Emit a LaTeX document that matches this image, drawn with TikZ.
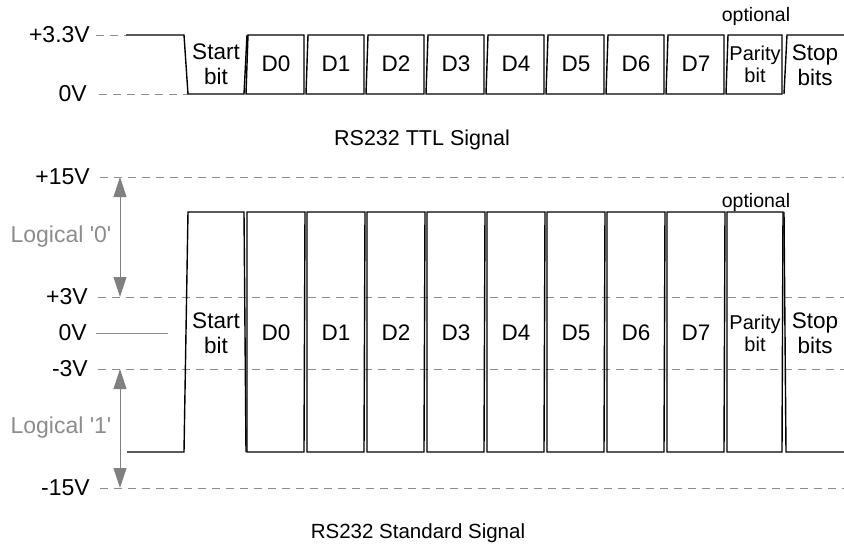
\documentclass[tikz,border=0pt]{standalone}
\usepackage{fontspec}
\setmainfont{Liberation Sans}
\usetikzlibrary{arrows.meta,positioning}

\tikzset{
  wave/.style={line width=1.4pt, line join=miter},
  level/.style={gray!90, dash pattern=on 8pt off 6pt, line width=0.9pt},
  lbl/.style={font=\fontsize{22.5}{25}\selectfont, inner sep=0pt},
  partlbl/.style={lbl, align=center, font=\fontsize{20}{22}\selectfont},
  smalllbl/.style={lbl, font=\fontsize{19.5}{22}\selectfont},
  titlelbl/.style={lbl, font=\fontsize{21.5}{24}\selectfont},
  vlbl/.style={lbl, anchor=east, font=\fontsize{23}{25}\selectfont},
  logic/.style={lbl, text=gray!90, font=\fontsize{23}{25}\selectfont},
  levelarrow/.style={gray, line width=1pt, {Triangle[length=20pt,width=13pt]}-{Triangle[length=20pt,width=13pt]}},
}

\begin{document}
\begin{tikzpicture}[x=1pt, y=-1pt]
  \useasboundingbox (0,0) rectangle (844,544);

  % TTL signal
  \node[vlbl] (ttlhi) at (90,35) {+3.3V};
  \node[vlbl] (ttllo) at (87,94) {0V};
  \coordinate (ttlidle) at (126,35);
  \coordinate (ttlstart) at (188,94);
  \draw[level] ([xshift=6pt]ttlhi.east) -- (ttlidle);
  \draw[level] ([xshift=12pt]ttllo.east) -- (ttlstart);
  \draw[wave] (ttlidle) -- (184,35) -- (ttlstart) -- (244,94) -- (247,35);
  \node[lbl, align=center] (ttlsb) at (216,64) {Start\\bit};
  \foreach \n in {0,...,7} {
    \pgfmathsetmacro{\b}{246+60*\n}
    \draw[wave] (\b,94) -- (\b+2,35) -- (\b+58,35) -- (\b+58,94) -- cycle;
    \node[lbl] (ttl\n) at (\b+30,64) {D\n};
  }
  \draw[wave] (726,94) -- (728,35) -- (782,35) -- (782,94) -- cycle;
  \node[partlbl] (ttlpar) at (755,64) {Parity\\bit};
  \node[smalllbl] (ttlopt) at (756,16) {optional};
  \draw[wave] (784,94) -- (787,35) -- (844,35);
  \node[lbl, align=center] (ttlstop) at (815,65) {Stop\\bits};
  \node[titlelbl] (ttltitle) at (422,140) {RS232 TTL Signal};

  % RS232 standard signal
  \node[vlbl] (p15) at (90,177) {+15V};
  \node[vlbl] (p3) at (88,297) {+3V};
  \node[vlbl] (z) at (87,333) {0V};
  \node[vlbl] (m3) at (88,369) {-3V};
  \node[vlbl] (m15) at (90,488) {-15V};
  \foreach \l/\y in {p15/177, p3/297, m3/369, m15/488}
    \draw[level] ([xshift=10pt]\l.east) -- (844,\y);
  \coordinate (zend) at (168,333);
  \draw[gray!90, line width=0.9pt] ([xshift=9pt]z.east) -- (zend);

  \coordinate (a15) at (120,177);
  \coordinate (a3) at (120,297);
  \coordinate (am3) at (120,369);
  \coordinate (am15) at (120,488);
  \draw[levelarrow] (a15) -- (a3);
  \draw[levelarrow] (am3) -- (am15);
  \node[logic] (log0) at (61,237) {Logical \textquotesingle0\textquotesingle};
  \node[logic] (log1) at (61,428) {Logical \textquotesingle1\textquotesingle};

  \coordinate (stdidle) at (127,452);
  \draw[wave] (stdidle) -- (184,452) -- (188,212) -- (244,212) -- (246,452);
  \node[lbl, align=center] (stdsb) at (216,333) {Start\\bit};
  \foreach \n in {0,...,7} {
    \pgfmathsetmacro{\b}{246+60*\n}
    \draw[wave] (\b+1,212) -- (\b+59,212) -- (\b+58,452) -- (\b+1,452) -- cycle;
    \node[lbl] (std\n) at (\b+30,333) {D\n};
  }
  \draw[wave] (727,212) -- (783,212) -- (782,452) -- (727,452) -- cycle;
  \draw[wave] (784,212) -- (786,452) -- (844,452);
  \node[partlbl] (stdpar) at (755,333) {Parity\\bit};
  \node[smalllbl] (stdopt) at (756,202) {optional};
  \node[lbl, align=center] (stdstop) at (815,333) {Stop\\bits};
  \node[titlelbl, font=\fontsize{20.5}{24}\selectfont] (stdtitle) at (418,533) {RS232 Standard Signal};
\end{tikzpicture}
\end{document}
